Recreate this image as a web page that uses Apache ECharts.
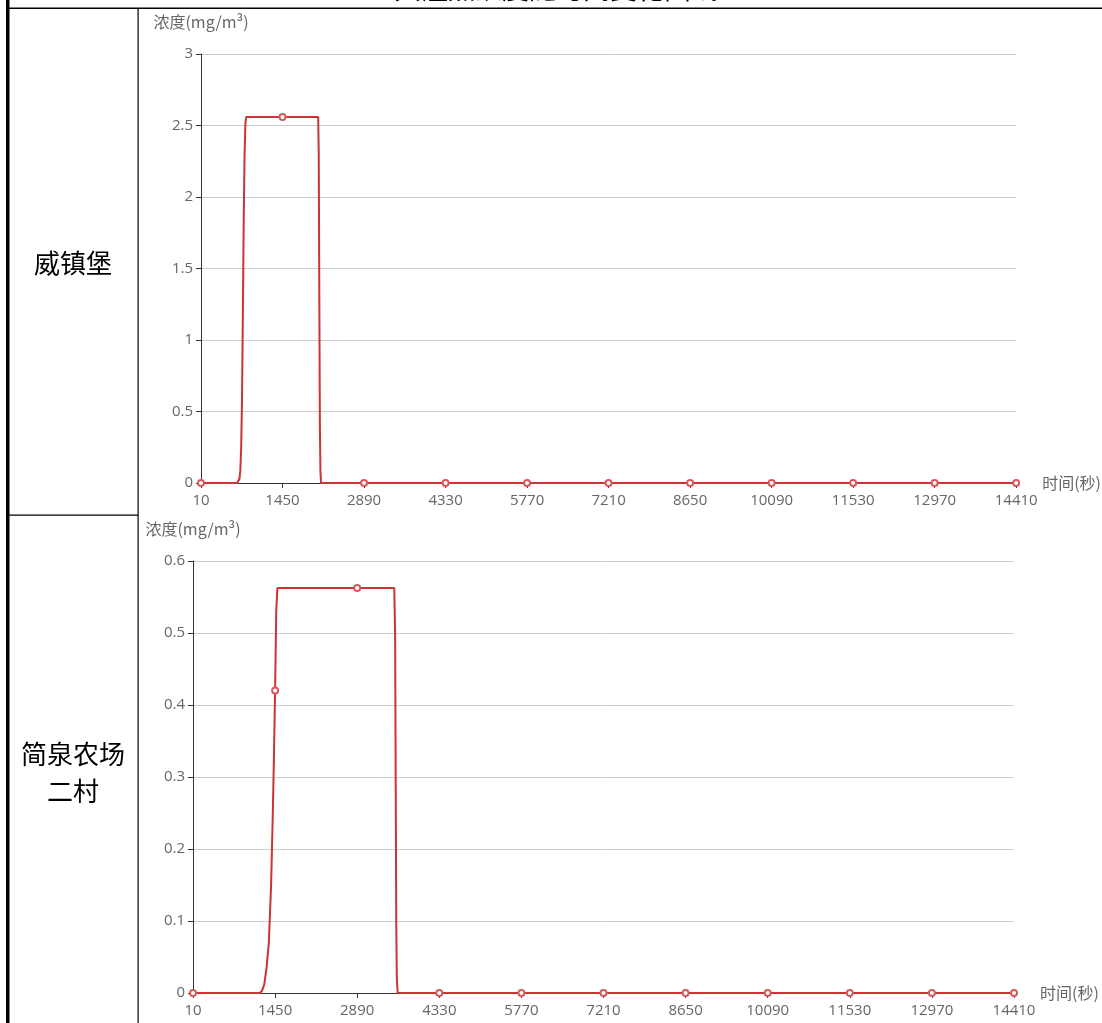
<!DOCTYPE html>
<html>
<head>
<meta charset="utf-8">
<script src="https://cdn.jsdelivr.net/npm/echarts@6/dist/echarts.min.js"></script>
<style>
html,body{margin:0;padding:0;background:#fff;}
#c{width:1102px;height:1023px;}
</style>
</head>
<body>
<div id="c"></div>
<script>
// ---- data ----
const pageTitle = '关注点浓度随时间变化曲线';
const siteNames = ['威镇堡', '简泉农场二村'];
const timeTicks = [10, 1450, 2890, 4330, 5770, 7210, 8650, 10090, 11530, 12970, 14410];
const yAxisName = '浓度(mg/m³)';
const xAxisName = '时间(秒)';

// 威镇堡: time (s) and concentration (mg/m3)
const timeA = [10, 650, 670, 690, 705, 720, 735, 750, 765, 780, 795, 810, 1450, 2080, 2090, 2100, 2110, 2120, 2130,
  2890, 4330, 5770, 7210, 8650, 10090, 11530, 12970, 14410];
const concA = [0, 0, 0.005, 0.03, 0.09, 0.25, 0.6, 1.2, 1.85, 2.3, 2.52, 2.56, 2.56, 2.56, 2.3, 1.3, 0.4, 0.08, 0,
  0, 0, 0, 0, 0, 0, 0, 0, 0];

// 简泉农场二村
const timeB = [10, 1180, 1220, 1260, 1300, 1340, 1380, 1410, 1430, 1450, 1470, 1490, 2890, 3540,
  3555, 3565, 3575, 3585, 3600, 4330, 5770, 7210, 8650, 10090, 11530, 12970, 14410];
const concB = [0, 0, 0.003, 0.012, 0.035, 0.07, 0.15, 0.25, 0.33, 0.42, 0.53, 0.5625, 0.5625, 0.5625,
  0.5, 0.3, 0.1, 0.02, 0, 0, 0, 0, 0, 0, 0, 0, 0];

const yMaxA = 3, yStepA = 0.5;
const yMaxB = 0.6, yStepB = 0.1;

// ---- chart ----
const FONT = "'Open Sans', 'Noto Sans CJK SC', sans-serif";
const CJK = "'Noto Sans CJK SC', sans-serif";
const LINE = '#cc3333';
const MARK = '#d65a5a';
const pairs = (ts, cs) => ts.map((t, i) => [t, cs[i]]);

function xAxisCfg(gridIndex) {
  return {
    type: 'value', gridIndex, min: 10, max: 14410, interval: 1440,
    name: xAxisName, nameLocation: 'end', nameGap: 26,
    nameTextStyle: { color: '#666', fontSize: 16, fontFamily: CJK },
    axisLine: { show: true, lineStyle: { color: '#333' } },
    axisTick: { show: true, length: 5, lineStyle: { color: '#333' } },
    axisLabel: { color: '#666', fontSize: 15, fontFamily: FONT, margin: 10, formatter: (v) => String(v) },
    splitLine: { show: false }
  };
}
function yAxisCfg(gridIndex, max, step) {
  return {
    type: 'value', gridIndex, min: 0, max, interval: step,
    name: yAxisName, nameLocation: 'end', nameGap: 24,
    nameTextStyle: { color: '#666', fontSize: 16, fontFamily: CJK },
    axisLine: { show: true, lineStyle: { color: '#333' } },
    axisTick: { show: true, length: 5, lineStyle: { color: '#333' } },
    axisLabel: { color: '#666', fontSize: 15, fontFamily: FONT, margin: 8, formatter: (v) => String(v) },
    splitLine: { show: true, lineStyle: { color: '#ccc' } }
  };
}
function seriesCfg(idx, ts, cs) {
  return {
    type: 'line', xAxisIndex: idx, yAxisIndex: idx,
    data: pairs(ts, cs),
    symbol: (v) => timeTicks.includes(v[0]) ? 'emptyCircle' : 'none',
    symbolSize: 6, showSymbol: true,
    lineStyle: { color: LINE, width: 2 },
    itemStyle: { color: MARK, borderWidth: 1.2 },
    animation: false
  };
}

const chart = echarts.init(document.getElementById('c'), null, { renderer: 'canvas' });
chart.setOption({
  animation: false,
  textStyle: { fontFamily: FONT },
  grid: [
    { left: 201, top: 54, width: 817, height: 429 },
    { left: 193, top: 561, width: 821, height: 432 }
  ],
  xAxis: [xAxisCfg(0), xAxisCfg(1)],
  yAxis: [yAxisCfg(0, yMaxA, yStepA), yAxisCfg(1, yMaxB, yStepB)],
  series: [seriesCfg(0, timeA, concA), seriesCfg(1, timeB, concB)],
  graphic: [
    { type: 'rect', shape: { x: 6, y: 0, width: 3.5, height: 1023 }, style: { fill: '#000' } },
    { type: 'rect', shape: { x: 6, y: 7.5, width: 1096, height: 1.5 }, style: { fill: '#000' } },
    { type: 'rect', shape: { x: 137.5, y: 8, width: 1.2, height: 1015 }, style: { fill: '#000' } },
    { type: 'rect', shape: { x: 9, y: 514.5, width: 129, height: 1.2 }, style: { fill: '#000' } },
    { type: 'text', x: 556, y: -11, style: { text: pageTitle, fill: '#000', font: "27px 'Noto Sans CJK SC'", textAlign: 'center', textVerticalAlign: 'middle' } },
    { type: 'text', x: 73, y: 263, style: { text: siteNames[0], fill: '#000', font: "26px 'Noto Sans CJK SC'", textAlign: 'center', textVerticalAlign: 'middle' } },
    { type: 'text', x: 73, y: 773, style: { text: '简泉农场\n二村', fill: '#000', font: "26px 'Noto Sans CJK SC'", lineHeight: 37, textAlign: 'center', textVerticalAlign: 'middle' } }
  ]
});
</script>
</body>
</html>
